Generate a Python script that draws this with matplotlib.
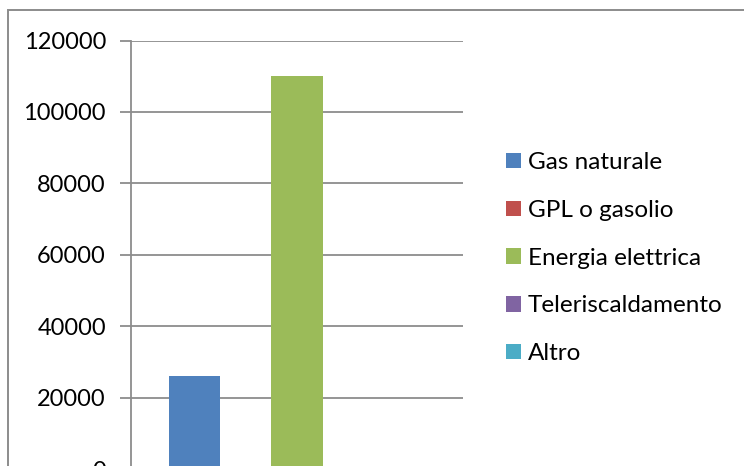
import matplotlib
matplotlib.use("Agg")
import matplotlib.pyplot as plt
from matplotlib.patches import Patch, Rectangle

# Heating source totals (single category, one bar per source)
sources = ["Gas naturale", "GPL o gasolio", "Energia elettrica", "Teleriscaldamento", "Altro"]
values = [26000, 0, 110000, 0, 0]
colors = ["#4f81bd", "#c0504d", "#9bbb59", "#8064a2", "#4bacc6"]
yticks = [0, 20000, 40000, 60000, 80000, 100000, 120000]

W, H = 744, 466
fig = plt.figure(figsize=(W / 100, H / 100), dpi=100)
plt.rcParams["font.family"] = ["Lato", "DejaVu Sans"]

grid_col = "#8c8c8c"

# Outer chart frame
fig.patches.append(Rectangle((7.5 / W, -0.1), 1.2, (H - 10) / H + 0.1,
                             transform=fig.transFigure, fill=False,
                             edgecolor=grid_col, linewidth=1.4))

left, right = 131 / W, 463 / W
y0_px, ytop_px = 469, 40.5
ax = fig.add_axes([left, (H - y0_px) / H, right - left, (y0_px - ytop_px) / H])

x = list(range(len(sources)))
bars = ax.bar(x, values, width=1.0, color=colors, linewidth=0, zorder=3)

ax.set_ylim(0, 120000)
ax.set_xlim(-1.24, len(sources) - 1 + 1.24)
ax.set_yticks(yticks)
ax.set_yticklabels([str(v) for v in yticks], fontsize=17)
ax.set_xticks([])
ax.yaxis.grid(True, color=grid_col, linewidth=1.3, zorder=0)
ax.tick_params(axis="y", length=8, width=1.3, color=grid_col, pad=10)
for s in ["top", "right", "bottom"]:
    ax.spines[s].set_visible(False)
ax.spines["left"].set_color(grid_col)
ax.spines["left"].set_linewidth(1.3)

handles = [Patch(facecolor=c, edgecolor="none") for c in colors]
fig.legend(handles, sources, loc="upper left",
           bbox_to_anchor=(494 / W, (H - 140) / H),
           frameon=False, fontsize=17.5, handlelength=0.6, handleheight=0.6,
           handletextpad=0.3, labelspacing=1.1, borderpad=0)

fig.savefig("out.png", dpi=100)
